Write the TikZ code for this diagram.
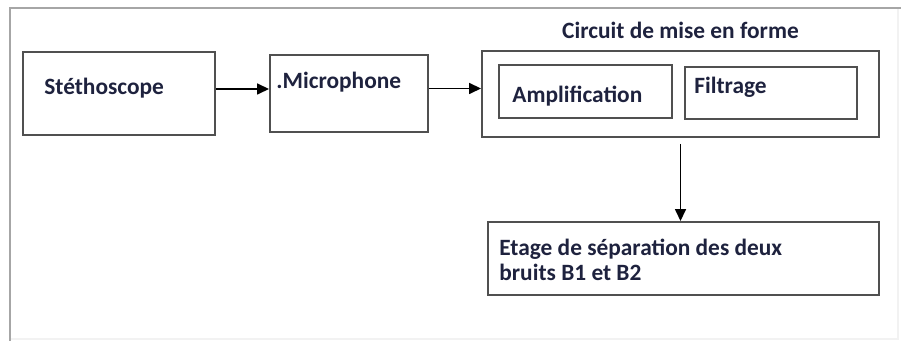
\documentclass[tikz,border=0pt]{standalone}
\usepackage{fontspec}
\setmainfont{Carlito}
\usepackage{xcolor}
\usepackage{tikz}
\usetikzlibrary{arrows.meta,positioning}

\definecolor{encre}{RGB}{30,34,62}
\definecolor{trait}{RGB}{80,80,80}

\tikzset{
  bloc/.style={draw=trait,line width=1.1pt,rectangle,inner sep=0pt},
  txt/.style={inner sep=0pt,anchor=west,text=encre,font=\fontsize{13.3}{14}\selectfont\bfseries},
  fleche/.style={-{Triangle[length=2.4mm,width=2.2mm]},line width=0.9pt,black}
}

\begin{document}
\begin{tikzpicture}
\useasboundingbox (0,0) rectangle (18.02,6.82);
% cadre
\draw[gray!10,line width=0.8pt](0.2,0.04)--(17.96,0.04)--(17.96,6.66);
\draw[gray!70,line width=1.4pt](0.2,0)|-(18.02,6.66);
% blocs
\node[bloc,minimum width=3.84cm,minimum height=1.66cm](steth)at(2.38,4.95){};
\node[bloc,minimum width=3.16cm,minimum height=1.54cm](micro)at(6.98,4.95){};
\node[bloc,minimum width=7.94cm,minimum height=1.72cm](circ)at(13.61,4.94){};
\node[bloc,minimum width=3.46cm,minimum height=1.06cm](ampli)at(11.71,4.99){};
\node[bloc,minimum width=3.44cm,minimum height=1.04cm](filtr)at(15.42,4.96){};
\node[bloc,minimum width=7.82cm,minimum height=1.46cm](separ)at(13.67,1.65){};
% textes
\node[txt](tsteth)at([xshift=0.44cm,yshift=0.11cm]steth.west){Stéthoscope};
\node[txt](tmicro)at([xshift=0.14cm,yshift=0.23cm]micro.west){.Microphone};
\node[txt](tampli)at([xshift=0.28cm,yshift=-0.09cm]ampli.west){Amplification};
\node[txt](tfiltr)at([xshift=0.2cm,yshift=0.12cm]filtr.west){Filtrage};
\node[txt,align=left](tsepar)at([xshift=0.24cm,yshift=-0.03cm]separ.west){Etage de séparation des deux\\bruits B1 et B2};
\node[txt,anchor=south](titre)[above=0.22cm of circ]{Circuit de mise en forme};
% liaisons
\draw[fleche]([yshift=0.09cm]steth.east)--([yshift=0.09cm]steth.east-|micro.west);
\draw[fleche]([yshift=0.1cm]micro.east)--([yshift=0.1cm]micro.east-|circ.west);
\draw[fleche,shorten <=0.12cm](circ.south)--(circ.south|-separ.north);
\end{tikzpicture}
\end{document}
